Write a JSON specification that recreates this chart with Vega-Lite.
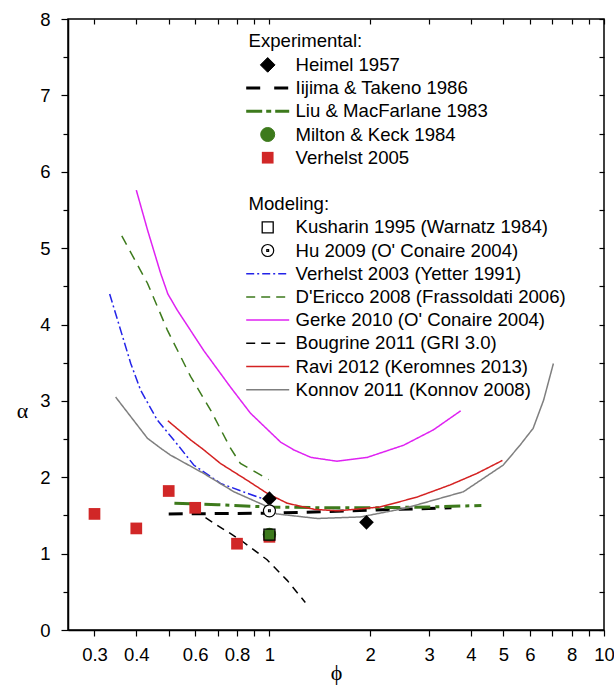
{
  "$schema": "https://vega.github.io/schema/vega-lite/v6.json",
  "width": 536,
  "height": 611,
  "autosize": {"type": "none"},
  "padding": {"left": 68, "top": 19, "right": 10, "bottom": 62},
  "background": "white",
  "config": {
    "font": "Liberation Sans",
    "view": {"stroke": "black", "strokeWidth": 1.5},
    "axis": {
      "grid": false,
      "domainColor": "black",
      "domainWidth": 1.5,
      "tickColor": "black",
      "tickWidth": 1.2,
      "labelColor": "black",
      "labelFont": "Liberation Sans",
      "labelFontSize": 18,
      "titleColor": "black"
    }
  },
  "datasets": {
    "rows": [
      {"series": "Heimel 1957", "phi": 1.0, "alpha": 1.72},
      {"series": "Heimel 1957", "phi": 1.95, "alpha": 1.41},
      {"series": "Iijima & Takeno 1986", "phi": 0.5, "alpha": 1.52},
      {"series": "Iijima & Takeno 1986", "phi": 1.0, "alpha": 1.53},
      {"series": "Iijima & Takeno 1986", "phi": 1.5, "alpha": 1.55},
      {"series": "Iijima & Takeno 1986", "phi": 2.0, "alpha": 1.57},
      {"series": "Iijima & Takeno 1986", "phi": 3.5, "alpha": 1.6},
      {"series": "Liu & MacFarlane 1983", "phi": 0.52, "alpha": 1.66},
      {"series": "Liu & MacFarlane 1983", "phi": 0.7, "alpha": 1.64},
      {"series": "Liu & MacFarlane 1983", "phi": 1.0, "alpha": 1.61},
      {"series": "Liu & MacFarlane 1983", "phi": 1.5, "alpha": 1.6},
      {"series": "Liu & MacFarlane 1983", "phi": 2.0, "alpha": 1.6},
      {"series": "Liu & MacFarlane 1983", "phi": 3.0, "alpha": 1.61},
      {"series": "Liu & MacFarlane 1983", "phi": 4.3, "alpha": 1.63},
      {"series": "Milton & Keck 1984", "phi": 1.0, "alpha": 1.25},
      {"series": "Verhelst 2005", "phi": 0.3, "alpha": 1.52},
      {"series": "Verhelst 2005", "phi": 0.4, "alpha": 1.33},
      {"series": "Verhelst 2005", "phi": 0.5, "alpha": 1.82},
      {"series": "Verhelst 2005", "phi": 0.6, "alpha": 1.6},
      {"series": "Verhelst 2005", "phi": 0.8, "alpha": 1.13},
      {"series": "Verhelst 2005", "phi": 1.0, "alpha": 1.22},
      {"series": "Kusharin 1995 (Warnatz 1984)", "phi": 1.0, "alpha": 1.25},
      {"series": "Hu 2009 (O' Conaire 2004)", "phi": 1.0, "alpha": 1.56},
      {"series": "Verhelst 2003 (Yetter 1991)", "phi": 0.333, "alpha": 4.4},
      {"series": "Verhelst 2003 (Yetter 1991)", "phi": 0.385, "alpha": 3.49},
      {"series": "Verhelst 2003 (Yetter 1991)", "phi": 0.412, "alpha": 3.14},
      {"series": "Verhelst 2003 (Yetter 1991)", "phi": 0.462, "alpha": 2.75},
      {"series": "Verhelst 2003 (Yetter 1991)", "phi": 0.524, "alpha": 2.46},
      {"series": "Verhelst 2003 (Yetter 1991)", "phi": 0.594, "alpha": 2.16},
      {"series": "Verhelst 2003 (Yetter 1991)", "phi": 0.714, "alpha": 1.92},
      {"series": "Verhelst 2003 (Yetter 1991)", "phi": 0.858, "alpha": 1.79},
      {"series": "Verhelst 2003 (Yetter 1991)", "phi": 0.984, "alpha": 1.7},
      {"series": "D'Ericco 2008 (Frassoldati 2006)", "phi": 0.362, "alpha": 5.16},
      {"series": "D'Ericco 2008 (Frassoldati 2006)", "phi": 0.432, "alpha": 4.54},
      {"series": "D'Ericco 2008 (Frassoldati 2006)", "phi": 0.495, "alpha": 3.93},
      {"series": "D'Ericco 2008 (Frassoldati 2006)", "phi": 0.581, "alpha": 3.32},
      {"series": "D'Ericco 2008 (Frassoldati 2006)", "phi": 0.667, "alpha": 2.88},
      {"series": "D'Ericco 2008 (Frassoldati 2006)", "phi": 0.765, "alpha": 2.38},
      {"series": "D'Ericco 2008 (Frassoldati 2006)", "phi": 0.819, "alpha": 2.18},
      {"series": "D'Ericco 2008 (Frassoldati 2006)", "phi": 0.995, "alpha": 1.97},
      {"series": "Gerke 2010 (O' Conaire 2004)", "phi": 0.4, "alpha": 5.76},
      {"series": "Gerke 2010 (O' Conaire 2004)", "phi": 0.432, "alpha": 5.24},
      {"series": "Gerke 2010 (O' Conaire 2004)", "phi": 0.473, "alpha": 4.67},
      {"series": "Gerke 2010 (O' Conaire 2004)", "phi": 0.497, "alpha": 4.4},
      {"series": "Gerke 2010 (O' Conaire 2004)", "phi": 0.53, "alpha": 4.19},
      {"series": "Gerke 2010 (O' Conaire 2004)", "phi": 0.636, "alpha": 3.66},
      {"series": "Gerke 2010 (O' Conaire 2004)", "phi": 0.765, "alpha": 3.18},
      {"series": "Gerke 2010 (O' Conaire 2004)", "phi": 0.877, "alpha": 2.84},
      {"series": "Gerke 2010 (O' Conaire 2004)", "phi": 1.08, "alpha": 2.46},
      {"series": "Gerke 2010 (O' Conaire 2004)", "phi": 1.18, "alpha": 2.36},
      {"series": "Gerke 2010 (O' Conaire 2004)", "phi": 1.33, "alpha": 2.26},
      {"series": "Gerke 2010 (O' Conaire 2004)", "phi": 1.59, "alpha": 2.21},
      {"series": "Gerke 2010 (O' Conaire 2004)", "phi": 1.96, "alpha": 2.26},
      {"series": "Gerke 2010 (O' Conaire 2004)", "phi": 2.52, "alpha": 2.42},
      {"series": "Gerke 2010 (O' Conaire 2004)", "phi": 3.09, "alpha": 2.62},
      {"series": "Gerke 2010 (O' Conaire 2004)", "phi": 3.73, "alpha": 2.87},
      {"series": "Bougrine 2011 (GRI 3.0)", "phi": 0.594, "alpha": 1.57},
      {"series": "Bougrine 2011 (GRI 3.0)", "phi": 0.682, "alpha": 1.4},
      {"series": "Bougrine 2011 (GRI 3.0)", "phi": 0.819, "alpha": 1.18},
      {"series": "Bougrine 2011 (GRI 3.0)", "phi": 0.984, "alpha": 0.92},
      {"series": "Bougrine 2011 (GRI 3.0)", "phi": 1.13, "alpha": 0.65},
      {"series": "Bougrine 2011 (GRI 3.0)", "phi": 1.28, "alpha": 0.36},
      {"series": "Ravi 2012 (Keromnes 2013)", "phi": 0.497, "alpha": 2.74},
      {"series": "Ravi 2012 (Keromnes 2013)", "phi": 0.581, "alpha": 2.49},
      {"series": "Ravi 2012 (Keromnes 2013)", "phi": 0.636, "alpha": 2.36},
      {"series": "Ravi 2012 (Keromnes 2013)", "phi": 0.714, "alpha": 2.18},
      {"series": "Ravi 2012 (Keromnes 2013)", "phi": 0.858, "alpha": 1.96},
      {"series": "Ravi 2012 (Keromnes 2013)", "phi": 0.984, "alpha": 1.79},
      {"series": "Ravi 2012 (Keromnes 2013)", "phi": 1.13, "alpha": 1.66},
      {"series": "Ravi 2012 (Keromnes 2013)", "phi": 1.36, "alpha": 1.58},
      {"series": "Ravi 2012 (Keromnes 2013)", "phi": 1.6, "alpha": 1.56},
      {"series": "Ravi 2012 (Keromnes 2013)", "phi": 2.14, "alpha": 1.61},
      {"series": "Ravi 2012 (Keromnes 2013)", "phi": 2.76, "alpha": 1.74},
      {"series": "Ravi 2012 (Keromnes 2013)", "phi": 3.47, "alpha": 1.9},
      {"series": "Ravi 2012 (Keromnes 2013)", "phi": 4.17, "alpha": 2.05},
      {"series": "Ravi 2012 (Keromnes 2013)", "phi": 4.97, "alpha": 2.22},
      {"series": "Konnov 2011 (Konnov 2008)", "phi": 0.347, "alpha": 3.05},
      {"series": "Konnov 2011 (Konnov 2008)", "phi": 0.432, "alpha": 2.51},
      {"series": "Konnov 2011 (Konnov 2008)", "phi": 0.473, "alpha": 2.38},
      {"series": "Konnov 2011 (Konnov 2008)", "phi": 0.506, "alpha": 2.29},
      {"series": "Konnov 2011 (Konnov 2008)", "phi": 0.636, "alpha": 2.05},
      {"series": "Konnov 2011 (Konnov 2008)", "phi": 0.783, "alpha": 1.81},
      {"series": "Konnov 2011 (Konnov 2008)", "phi": 0.98, "alpha": 1.62},
      {"series": "Konnov 2011 (Konnov 2008)", "phi": 1.05, "alpha": 1.52},
      {"series": "Konnov 2011 (Konnov 2008)", "phi": 1.39, "alpha": 1.46},
      {"series": "Konnov 2011 (Konnov 2008)", "phi": 1.87, "alpha": 1.48},
      {"series": "Konnov 2011 (Konnov 2008)", "phi": 2.52, "alpha": 1.59},
      {"series": "Konnov 2011 (Konnov 2008)", "phi": 3.8, "alpha": 1.81},
      {"series": "Konnov 2011 (Konnov 2008)", "phi": 5.0, "alpha": 2.16},
      {"series": "Konnov 2011 (Konnov 2008)", "phi": 5.61, "alpha": 2.42},
      {"series": "Konnov 2011 (Konnov 2008)", "phi": 6.14, "alpha": 2.64},
      {"series": "Konnov 2011 (Konnov 2008)", "phi": 6.6, "alpha": 3.01},
      {"series": "Konnov 2011 (Konnov 2008)", "phi": 7.06, "alpha": 3.49}
    ]
  },
  "resolve": {"axis": {"x": "independent", "y": "independent"}},
  "layer": [
    {
      "data": {"name": "rows"},
      "transform": [
        {"filter": {"field": "series", "oneOf": ["Iijima & Takeno 1986", "Liu & MacFarlane 1983", "Verhelst 2003 (Yetter 1991)", "D'Ericco 2008 (Frassoldati 2006)", "Gerke 2010 (O' Conaire 2004)", "Bougrine 2011 (GRI 3.0)", "Ravi 2012 (Keromnes 2013)", "Konnov 2011 (Konnov 2008)"]}}
      ],
      "mark": {"type": "line", "clip": true},
      "encoding": {
        "x": {
          "field": "phi",
          "type": "quantitative",
          "scale": {"type": "log", "domain": [0.25, 10], "nice": false},
          "axis": {
            "orient": "bottom",
            "values": [0.3, 0.4, 0.5, 0.6, 0.7, 0.8, 0.9, 1, 2, 3, 4, 5, 6, 7, 8, 9, 10],
            "labelExpr": "indexof([0.5, 0.7, 0.9, 7, 9], datum.value) >= 0 ? '' : datum.label",
            "labelFlush": false,
            "labelOverlap": false,
            "tickSize": 6,
            "labelPadding": 9,
            "labelFontSize": 18.5,
            "title": "ϕ",
            "titleFont": "Liberation Serif",
            "titleFontSize": 22,
            "titleFontWeight": "normal",
            "titleBaseline": "middle",
            "titleY": 42
          }
        },
        "y": {
          "field": "alpha",
          "type": "quantitative",
          "scale": {"domain": [0, 8], "nice": false},
          "axis": {
            "orient": "left",
            "values": [0, 0.5, 1, 1.5, 2, 2.5, 3, 3.5, 4, 4.5, 5, 5.5, 6, 6.5, 7, 7.5, 8],
            "labelExpr": "datum.value % 1 === 0 ? format(datum.value, 'd') : ''",
            "labelOverlap": false,
            "labelFlush": false,
            "labelFontSize": 18.5,
            "tickSize": {"condition": {"test": "datum.value % 1 === 0", "value": 7}, "value": 5},
            "labelPadding": 11,
            "title": "α",
            "titleAngle": 0,
            "titleFont": "Liberation Serif",
            "titleFontSize": 22,
            "titleFontWeight": "normal",
            "titleAlign": "center",
            "titleBaseline": "middle",
            "titleX": -46,
            "titleY": 391
          }
        },
        "color": {
          "field": "series",
          "type": "nominal",
          "scale": {
            "domain": ["Experimental:", "Heimel 1957", "Iijima & Takeno 1986", "Liu & MacFarlane 1983", "Milton & Keck 1984", "Verhelst 2005", " ", "Modeling:", "Kusharin 1995 (Warnatz 1984)", "Hu 2009 (O' Conaire 2004)", "Verhelst 2003 (Yetter 1991)", "D'Ericco 2008 (Frassoldati 2006)", "Gerke 2010 (O' Conaire 2004)", "Bougrine 2011 (GRI 3.0)", "Ravi 2012 (Keromnes 2013)", "Konnov 2011 (Konnov 2008)"],
            "range": ["black", "black", "black", "#3d7a1c", "#3d7a1c", "#d12727", "white", "white", "black", "black", "#2323e8", "#3d7a1c", "#df22f2", "black", "#d42222", "#7f7f7f"]
          },
          "legend": {
            "title": null,
            "orient": "none",
            "legendX": 190.7,
            "legendY": 12.7,
            "padding": 0,
            "rowPadding": 4.2,
            "symbolSize": 100,
            "labelFont": "Liberation Sans",
            "labelFontSize": 18.6,
            "labelColor": "black",
            "labelOffset": 18.8,
            "labelLimit": 400,
            "encode": {
              "symbols": {
                "update": {
                  "x": {"value": 9},
                  "y": {"value": 9},
                  "shape": {"signal": "['circle','diamond','M-4.3,0H4.3','M-4.3,0H4.3','circle','square','circle','circle','square','M-1,0A1,1,0,1,1,1,0A1,1,0,1,1,-1,0ZM-0.15,-0.15H0.15V0.15H-0.15Z','M-4.3,0H4.3','M-4.3,0H4.3','M-4.3,0H4.3','M-4.3,0H4.3','M-4.3,0H4.3','M-4.3,0H4.3'][datum.index]"},
                  "size": {"signal": "[0,215,100,100,196,137,0,0,121,144,100,100,100,100,100,100][datum.index]"},
                  "fill": {"signal": "['transparent','black','transparent','transparent','#3d7a1c','#d12727','transparent','transparent','transparent','white','transparent','transparent','transparent','transparent','transparent','transparent'][datum.index]"},
                  "stroke": {"signal": "['transparent','black','black','#3d7a1c','#3d7a1c','#d12727','transparent','transparent','black','black','#2323e8','#3d7a1c','#df22f2','black','#d42222','#7f7f7f'][datum.index]"},
                  "strokeWidth": {"signal": "[0,1,3,3,1,0,0,0,1.3,1.2,1.5,1.5,1.5,1.5,1.5,1.5][datum.index]"},
                  "strokeDash": {"signal": "[[],[],[14,14],[16,4,5,4],[],[],[],[],[],[],[8,3,2,3],[9,6],[],[9,6],[],[]][datum.index]"},
                  "opacity": {"value": 1}
                }
              },
              "labels": {
                "update": {
                  "x": {"value": 36.8},
                  "y": {"value": 9},
                  "dx": {"signal": "datum.index === 0 || datum.index === 7 ? -47 : 0"}
                }
              }
            }
          }
        },
        "strokeDash": {
          "field": "series",
          "type": "nominal",
          "scale": {
            "domain": ["Iijima & Takeno 1986", "Liu & MacFarlane 1983", "Verhelst 2003 (Yetter 1991)", "D'Ericco 2008 (Frassoldati 2006)", "Gerke 2010 (O' Conaire 2004)", "Bougrine 2011 (GRI 3.0)", "Ravi 2012 (Keromnes 2013)", "Konnov 2011 (Konnov 2008)"],
            "range": [[14, 9], [16, 5, 4, 5], [9, 3, 2, 3], [10, 7], [1, 0], [8, 6], [1, 0], [1, 0]]
          },
          "legend": null
        },
        "strokeWidth": {
          "condition": {"test": "datum.series === 'Iijima & Takeno 1986' || datum.series === 'Liu & MacFarlane 1983'", "value": 3},
          "value": 1.5
        }
      }
    },
    {
      "data": {"name": "rows"},
      "transform": [{"filter": {"field": "series", "equal": "Verhelst 2005"}}],
      "mark": {"type": "point", "shape": "square", "filled": true, "size": 137, "color": "#d12727", "opacity": 1},
      "encoding": {
        "x": {
          "field": "phi",
          "type": "quantitative",
          "axis": {
            "orient": "top",
            "values": [0.3, 0.4, 0.5, 0.6, 0.7, 0.8, 0.9, 1, 2, 3, 4, 5, 6, 7, 8, 9, 10],
            "labels": false,
            "title": null,
            "domain": false,
            "tickSize": -5
          }
        },
        "y": {
          "field": "alpha",
          "type": "quantitative",
          "axis": {
            "orient": "right",
            "values": [0, 0.5, 1, 1.5, 2, 2.5, 3, 3.5, 4, 4.5, 5, 5.5, 6, 6.5, 7, 7.5, 8],
            "labels": false,
            "title": null,
            "domain": false,
            "tickSize": -5
          }
        }
      }
    },
    {
      "data": {"name": "rows"},
      "transform": [{"filter": {"field": "series", "equal": "Milton & Keck 1984"}}],
      "mark": {"type": "point", "shape": "circle", "filled": true, "size": 180, "color": "#3d7a1c", "opacity": 1},
      "encoding": {
        "x": {"field": "phi", "type": "quantitative", "axis": null},
        "y": {"field": "alpha", "type": "quantitative", "axis": null}
      }
    },
    {
      "data": {"name": "rows"},
      "transform": [{"filter": {"field": "series", "equal": "Kusharin 1995 (Warnatz 1984)"}}],
      "mark": {"type": "point", "shape": "square", "filled": false, "size": 121, "stroke": "black", "fill": null, "strokeWidth": 1.3, "opacity": 1},
      "encoding": {
        "x": {"field": "phi", "type": "quantitative", "axis": null},
        "y": {"field": "alpha", "type": "quantitative", "axis": null}
      }
    },
    {
      "data": {"name": "rows"},
      "transform": [{"filter": {"field": "series", "equal": "Heimel 1957"}}],
      "mark": {"type": "point", "shape": "diamond", "filled": true, "size": 215, "color": "black", "opacity": 1},
      "encoding": {
        "x": {"field": "phi", "type": "quantitative", "axis": null},
        "y": {"field": "alpha", "type": "quantitative", "axis": null}
      }
    },
    {
      "data": {"name": "rows"},
      "transform": [{"filter": {"field": "series", "equal": "Hu 2009 (O' Conaire 2004)"}}],
      "mark": {"type": "point", "shape": "M-1,0A1,1,0,1,1,1,0A1,1,0,1,1,-1,0ZM-0.15,-0.15H0.15V0.15H-0.15Z", "filled": true, "size": 144, "fill": "white", "stroke": "black", "strokeWidth": 1.2, "opacity": 1},
      "encoding": {
        "x": {"field": "phi", "type": "quantitative", "axis": null},
        "y": {"field": "alpha", "type": "quantitative", "axis": null}
      }
    }
  ]
}
